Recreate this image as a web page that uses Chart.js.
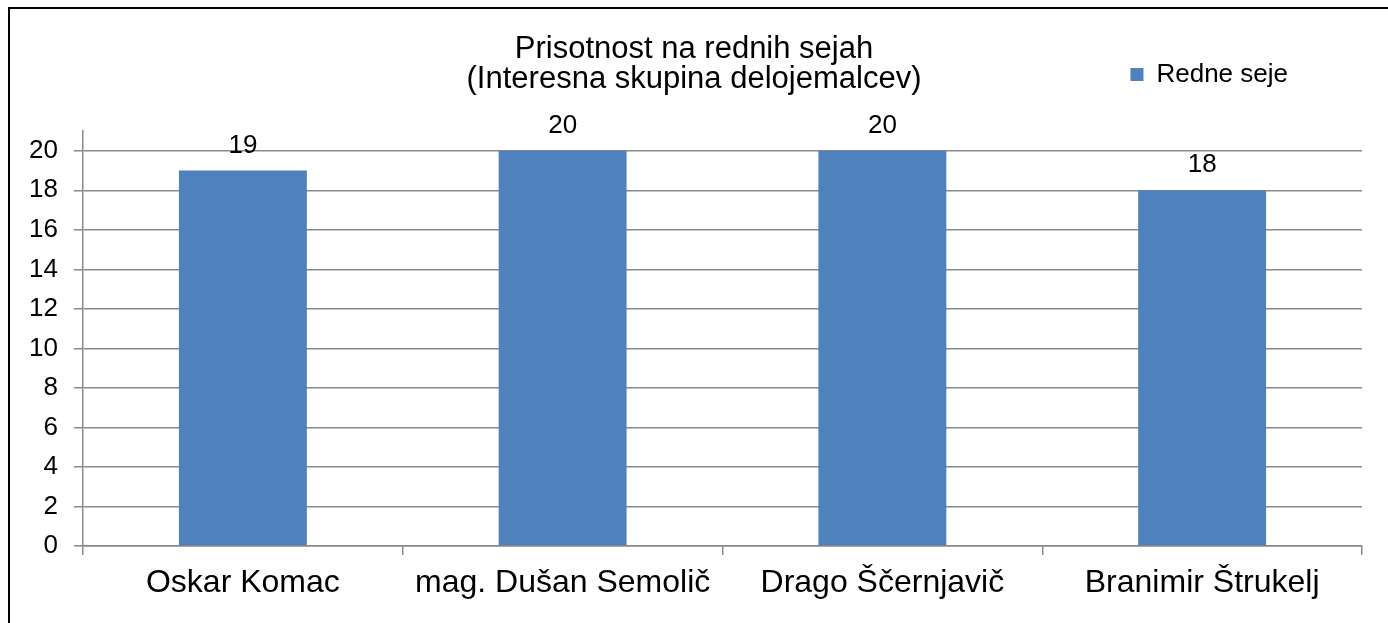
<!DOCTYPE html>
<html>
<head>
<meta charset="utf-8">
<script src="https://cdn.jsdelivr.net/npm/chart.js@4"></script>
<style>
  html, body { margin: 0; padding: 0; background: #fff; overflow: hidden; }
  #frame { position: absolute; left: 8px; top: 7px; width: 1500px; height: 700px; border: 2px solid #000; }
  #chart { position: absolute; left: 0; top: 0; }
</style>
</head>
<body>
<div id="frame"></div>
<canvas id="chart" width="1388" height="623"></canvas>
<script>
// data
const categories = ['Oskar Komac', 'mag. Dušan Semolič', 'Drago Ščernjavič', 'Branimir Štrukelj'];
const seriesName = 'Redne seje';
const values = [19, 20, 20, 18];
const titleLines = ['Prisotnost na rednih sejah', '(Interesna skupina delojemalcev)'];

const FONT = '"Liberation Sans", Arial, sans-serif';
const GRID = '#898989';

// value labels above each bar
const barLabels = {
  id: 'barLabels',
  afterDatasetsDraw(chart) {
    const ctx = chart.ctx;
    const meta = chart.getDatasetMeta(0);
    ctx.save();
    ctx.font = '26px ' + FONT;
    ctx.fillStyle = '#000';
    ctx.textAlign = 'center';
    ctx.textBaseline = 'middle';
    meta.data.forEach((bar, i) => {
      ctx.fillText(String(values[i]), bar.x, bar.y - 25);
    });
    ctx.restore();
  }
};

const config = {
  type: 'bar',
  data: {
    labels: categories,
    datasets: [{
      label: seriesName,
      data: values,
      backgroundColor: '#4F81BD',
      borderWidth: 0,
      categoryPercentage: 1,
      barPercentage: 0.4
    }]
  },
  options: {
    responsive: false,
    animation: false,
    layout: { padding: { left: 26, right: 26, top: -12.5, bottom: 0 } },
    plugins: {
      tooltip: { enabled: false },
      legend: {
        position: 'top',
        align: 'end',
        weight: 3000,
        labels: {
          font: { family: FONT, size: 26 },
          color: '#000',
          boxWidth: 13,
          boxHeight: 13,
          padding: 74
        }
      },
      title: {
        display: true,
        text: titleLines,
        color: '#000',
        font: { family: FONT, size: 31, weight: 'normal', lineHeight: '30px' },
        padding: { top: -63, bottom: 36.5 }
      }
    },
    scales: {
      x: {
        offset: true,
        grid: { offset: true, drawOnChartArea: false, drawTicks: true, tickLength: 9, color: GRID, lineWidth: 1.5 },
        border: { color: GRID, width: 1.5 },
        ticks: { font: { family: FONT, size: 32 }, color: '#000', padding: 9, maxRotation: 0, autoSkip: false },
        afterFit(s) { s.height = 77; }
      },
      y: {
        min: 0,
        max: 21,
        grid: { color: GRID, lineWidth: 1.5, tickLength: 9 },
        border: { color: GRID, width: 1.5 },
        ticks: { stepSize: 2, includeBounds: false, font: { family: FONT, size: 26 }, color: '#000', padding: 16 },
        afterFit(s) { s.width = 57; }
      }
    }
  },
  plugins: [barLabels]
};

new Chart(document.getElementById('chart').getContext('2d'), config);
</script>
</body>
</html>
